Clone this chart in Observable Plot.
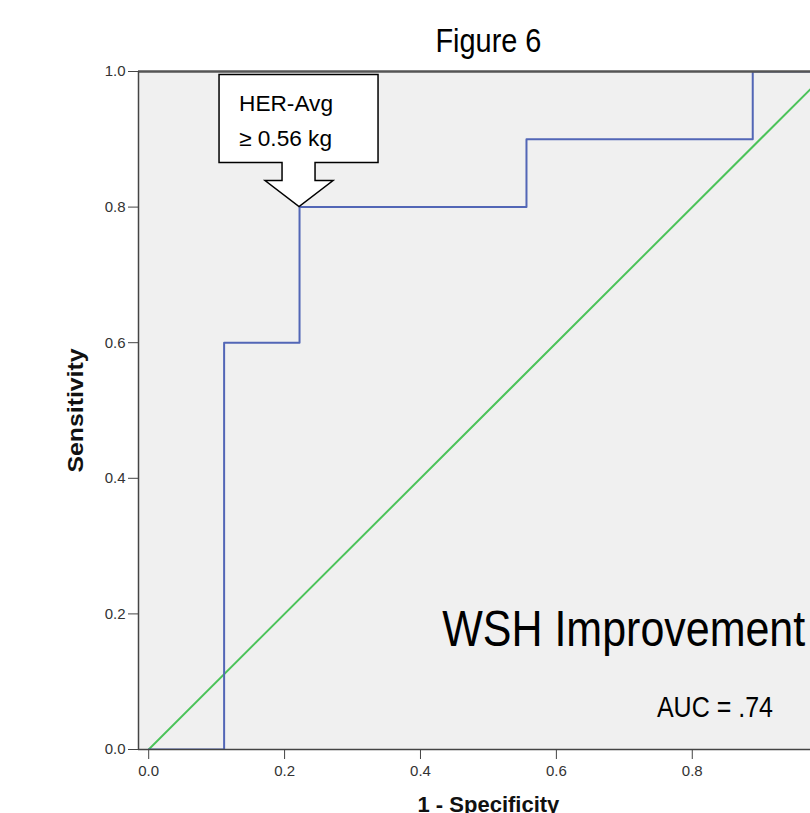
<!DOCTYPE html>
<html><head><meta charset="utf-8">
<script src="https://cdn.jsdelivr.net/npm/d3@7"></script>
<script src="https://cdn.jsdelivr.net/npm/@observablehq/plot@0.6"></script>
<style>
html,body{margin:0;padding:0;background:#fff;overflow:hidden;}
</style></head><body><div id="chart"></div>
<script>
// ROC curve (step) values
const fpr = [0, 0.111, 0.111, 0.222, 0.222, 0.556, 0.556, 0.889, 0.889, 1.0];
const tpr = [0, 0, 0.6, 0.6, 0.8, 0.8, 0.9, 0.9, 1.0, 1.0];
// reference (chance) diagonal
const refX = [0, 1];
const refY = [0, 1];
const xTicks = [0, 0.2, 0.4, 0.6, 0.8];
const yTicks = [0, 0.2, 0.4, 0.6, 0.8, 1.0];
const titleText = "Figure 6";
const xLabel = "1 - Specificity";
const yLabel = "Sensitivity";
const calloutLines = ["HER-Avg", "≥ 0.56 kg"];
const calloutPoint = [0.222, 0.8];
const groupLabel = "WSH Improvement";
const groupPos = [0.432, 0.152];
const aucLabel = "AUC = .74";
const aucPos = [0.748, 0.048];

const SANS = "'Liberation Sans',Arial,sans-serif";
const xDomain = [-0.015, 0.974];

const roc = fpr.map((x, i) => ({x, y: tpr[i]}));
const ref = refX.map((x, i) => ({x, y: refY[i]}));

function callout(index, scales) {
  const tx = scales.x(calloutPoint[0]), ty = scales.y(calloutPoint[1]);
  const g = d3.create("svg:g");
  const d = `M${tx-80},${ty-132}H${tx+79}V${ty-44}H${tx+16}V${ty-26}H${tx+34}L${tx},${ty}L${tx-34},${ty-26}H${tx-17}V${ty-44}H${tx-80}Z`;
  g.append("path").attr("d", d).attr("fill", "white").attr("stroke", "black").attr("stroke-width", 1.5);
  g.selectAll("text").data(calloutLines).join("text")
    .attr("x", tx - 60).attr("y", (t, i) => ty - 96 + i * 35)
    .attr("text-anchor", "start")
    .attr("font-family", SANS).attr("font-size", 22).attr("fill", "black")
    .attr("textLength", (t, i) => i === 0 ? 94 : 93).attr("lengthAdjust", "spacingAndGlyphs")
    .text(t => t);
  return g.node();
}

const chart = Plot.plot({
  width: 810,
  height: 813,
  marginLeft: 138,
  marginRight: 0,
  marginTop: 71,
  marginBottom: 64,
  style: {background: "white", fontFamily: SANS, fontSize: "15px", overflow: "visible"},
  x: {domain: xDomain, axis: null},
  y: {domain: [0, 1], axis: null},
  marks: [
    Plot.frame({fill: "#f0f0f0", stroke: "none"}),
    Plot.line(ref, {x: "x", y: "y", stroke: "#4cc35a", strokeWidth: 2, clip: true}),
    Plot.line(roc, {x: "x", y: "y", stroke: "#5266b6", strokeWidth: 2, clip: true}),
    Plot.ruleY([1], {stroke: "#555", strokeWidth: 2.5}),
    Plot.ruleY([0], {stroke: "#444", strokeWidth: 1.5}),
    Plot.ruleX([xDomain[0]], {stroke: "#444", strokeWidth: 1.5}),
    Plot.axisX(xTicks, {tickSize: 10, tickPadding: 6, tickFormat: ".1f", fontSize: 15, color: "#444", label: null}),
    Plot.axisY(yTicks, {tickSize: 10, tickPadding: 3, tickFormat: ".1f", fontSize: 15, color: "#444", label: null}),
    Plot.text([{x: 0.5, y: 1, t: titleText}], {x: "x", y: "y", text: "t", dy: -20, lineAnchor: "bottom", fontSize: 33, fill: "black"}),
    Plot.text([{t: yLabel}], {text: "t", frameAnchor: "left", textAnchor: "middle", rotate: -90, dx: -63, fontSize: 22, fontWeight: "bold", fill: "#111"}),
    Plot.text([{x: 0.5, y: 0, t: xLabel}], {x: "x", y: "y", text: "t", dy: 62, lineAnchor: "bottom", fontSize: 22, fontWeight: "bold", fill: "#111"}),
    Plot.text([{x: groupPos[0], y: groupPos[1], t: groupLabel}], {x: "x", y: "y", text: "t", textAnchor: "start", lineAnchor: "bottom", fontSize: 50, fill: "black"}),
    Plot.text([{x: aucPos[0], y: aucPos[1], t: aucLabel}], {x: "x", y: "y", text: "t", textAnchor: "start", lineAnchor: "bottom", fontSize: 30, fill: "black"}),
    callout
  ]
});

// condense the narrow-font texts to the widths seen in the figure
const fit = {[titleText]: 106, [groupLabel]: 363, [aucLabel]: 116, [yLabel]: 124};
d3.select(chart).selectAll("text").each(function() {
  const t = this.textContent;
  if (fit[t] && this.children.length === 0) {
    this.setAttribute("textLength", fit[t]);
    this.setAttribute("lengthAdjust", "spacingAndGlyphs");
  }
  if (/^\d\.\d$/.test(t)) {
    this.style.fontSize = "15px";
    this.style.fill = "#333";
  }
});
document.getElementById("chart").append(chart);
</script>
</body></html>
